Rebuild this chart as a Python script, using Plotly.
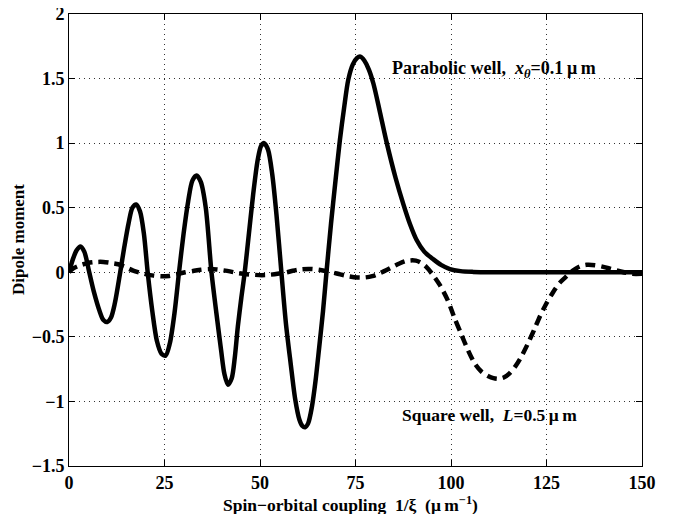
import plotly.graph_objects as go

# Parabolic well (solid)
para_x = [0, 1, 2, 3, 4, 5.3, 6.5, 8, 9, 10, 11, 12, 13.4, 14.5, 15.6, 16.6, 17.6, 18.6, 19.6, 20.6,
          21.8, 23, 24.2, 25.3, 26.4, 27.6, 28.8, 30, 31.2, 32.3, 33.4, 34.5, 35.8, 37.3, 38.6, 39.8,
          40.7, 41.6, 42.6, 43.4, 44.2, 45.1, 46.0, 47.1, 48.2, 49.4, 50.3, 51.1, 52.1, 53.2, 54.3,
          55.6, 56.8, 58.0, 59.2, 60.3, 61.1, 61.8, 62.6, 63.6, 64.5, 65.5, 66.5, 67.4, 68.6, 69.8,
          70.9, 72.0, 73.1, 74.3, 75.4, 76.3, 77.3, 78.5, 79.7, 81.4, 83.2, 85.5, 87.5, 89.3, 91.0,
          93.0, 95.4, 97.5, 99.7, 102.5, 105.8, 110, 120, 130, 140, 150]
para_y = [0, 0.1, 0.17, 0.2, 0.16, 0.0, -0.15, -0.3, -0.37, -0.385, -0.35, -0.24, 0.0, 0.2, 0.38,
          0.5, 0.525, 0.47, 0.3, 0.0, -0.3, -0.53, -0.63, -0.645, -0.55, -0.32, 0.0, 0.3, 0.55,
          0.71, 0.75, 0.7, 0.5, 0.0, -0.32, -0.6, -0.79, -0.87, -0.82, -0.66, -0.42, -0.2, 0.0,
          0.3, 0.6, 0.87, 0.98, 1.0, 0.95, 0.76, 0.45, 0.0, -0.4, -0.7, -0.98, -1.14, -1.19, -1.2,
          -1.17, -1.04, -0.85, -0.58, -0.3, 0.0, 0.38, 0.72, 1.02, 1.27, 1.49, 1.61, 1.66, 1.67,
          1.64, 1.57, 1.46, 1.24, 1.0, 0.73, 0.53, 0.37, 0.25, 0.16, 0.1, 0.055, 0.025, 0.009, 0.003,
          0, 0, 0, 0, 0]

# Square well (dashed)
sq_x = [0, 1.1, 3, 5, 7.2, 9, 11, 12.9, 14.8, 16.8, 18.6, 20.3, 22.2, 24.2, 26.2, 28.2, 30.4, 32.5,
        34.5, 36.9, 38.7, 40.4, 42.4, 44.3, 46.5, 48.7, 50.5, 52.2, 54.6, 57.0, 58.6, 60.5, 62.8,
        65.3, 67.0, 68.8, 71.0, 73.1, 75.5, 77.5, 79.4, 81.0, 83.0, 84.9, 86.5, 88.0, 89.5, 90.8,
        91.9, 93.4, 95.0, 97.1, 99.2, 101.0, 102.7, 104.4, 106.3, 108.0, 109.8, 111.1, 112.4, 113.8,
        115.4, 116.8, 118.1, 120.0, 121.7, 123.3, 125.0, 126.8, 128.5, 130.3, 132.0, 133.7, 135.5,
        137.7, 139.9, 142.0, 144.2, 146.0, 147.5, 150]
sq_y = [0, 0.03, 0.055, 0.072, 0.08, 0.08, 0.072, 0.062, 0.04, 0.013, -0.003, -0.016, -0.026, -0.031,
        -0.028, -0.015, 0.0, 0.01, 0.02, 0.025, 0.022, 0.015, 0.005, -0.006, -0.015, -0.02, -0.022,
        -0.02, -0.012, 0.0, 0.012, 0.022, 0.026, 0.02, 0.01, 0.0, -0.016, -0.03, -0.04, -0.04,
        -0.03, -0.012, 0.015, 0.045, 0.068, 0.085, 0.092, 0.09, 0.078, 0.045, -0.01, -0.1, -0.22,
        -0.36, -0.48, -0.6, -0.71, -0.77, -0.805, -0.82, -0.825, -0.815, -0.78, -0.73, -0.67,
        -0.56, -0.45, -0.34, -0.24, -0.15, -0.08, -0.03, 0.015, 0.045, 0.058, 0.055, 0.042, 0.025,
        0.008, -0.005, -0.012, -0.012]

x_ticks = [0, 25, 50, 75, 100, 125, 150]
y_ticks = [-1.5, -1, -0.5, 0, 0.5, 1, 1.5, 2]
y_tick_labels = ["\u22121.5", "\u22121", "\u22120.5", "0", "0.5", "1", "1.5", "2"]

label_parabolic = "<b>Parabolic well,  <i>x</i><sub><i>\u03b8</i></sub>=0.1\u2009\u03bc\u2009m</b>"
label_square = "<b>Square well,  <i>L</i>=0.5\u2009\u03bc\u2009m</b>"
x_title = "<b>Spin\u2212orbital coupling  1/\u03be  (\u03bc\u2009m<sup>\u22121</sup>)</b>"
y_title = "<b>Dipole moment</b>"

FONT = "Liberation Serif, Times New Roman, serif"
BFONT = dict(family=FONT, size=18, color="black", weight="bold")

fig = go.Figure()
fig.add_trace(go.Scatter(x=para_x, y=para_y, mode="lines",
                         line=dict(color="black", width=4.5, shape="spline", smoothing=0.8),
                         showlegend=False, hoverinfo="skip"))
fig.add_trace(go.Scatter(x=sq_x, y=sq_y, mode="lines",
                         line=dict(color="black", width=4.5, dash="10px,6px", shape="spline", smoothing=0.8),
                         showlegend=False, hoverinfo="skip"))

fig.add_annotation(x=84.0, y=1.57, xref="x", yref="y", text=label_parabolic, showarrow=False,
                   xanchor="left", yanchor="middle", font=dict(family=FONT, size=18, color="black"))
fig.add_annotation(x=86.6, y=-1.108, xref="x", yref="y", text=label_square, showarrow=False,
                   xanchor="left", yanchor="middle", font=dict(family=FONT, size=17.5, color="black"))
fig.add_annotation(x=0.491, y=-0.083, xref="paper", yref="paper", text=x_title, showarrow=False,
                   xanchor="center", yanchor="middle", font=dict(family=FONT, size=17.5, color="black"))
fig.add_annotation(x=-0.089, y=0.5, xref="paper", yref="paper", text=y_title, showarrow=False,
                   textangle=-90, xanchor="center", yanchor="middle",
                   font=dict(family=FONT, size=17, color="black"))

axis_common = dict(showline=True, linecolor="black", linewidth=1, mirror="allticks",
                   ticks="inside", ticklen=6, tickcolor="black", tickwidth=1,
                   showgrid=True, gridcolor="rgba(0,0,0,0.8)", gridwidth=1, griddash="1px,4px",
                   zeroline=False, automargin=False, tickfont=BFONT, ticklabeloverflow="allow")

fig.update_xaxes(range=[0, 150], tickvals=x_ticks, ticktext=[str(v) for v in x_ticks], **axis_common)
fig.update_yaxes(range=[-1.5, 2], tickvals=y_ticks, ticktext=y_tick_labels, **axis_common)

# the page body has an 8px default margin, so the figure is sized to fit inside the window
fig.update_layout(width=672, height=506, margin=dict(l=61, r=38, t=6, b=48, autoexpand=False),
                  plot_bgcolor="white", paper_bgcolor="white",
                  font=dict(family=FONT, color="black"))

fig.write_html("out.html")
